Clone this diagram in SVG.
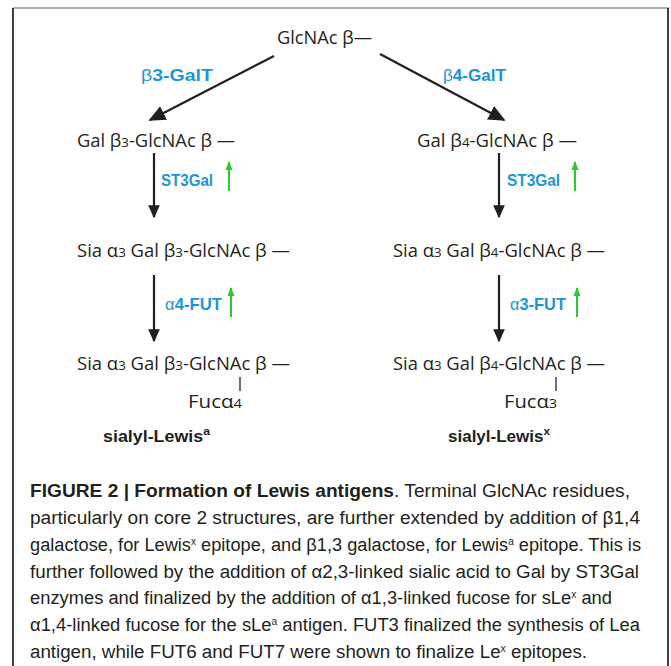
<svg xmlns="http://www.w3.org/2000/svg" width="671" height="666" viewBox="0 0 671 666">
<defs>
<style>
.t{font-family:"Open Sans","Noto Sans",sans-serif;font-size:18px;fill:#231f20}
.e{font-family:"Liberation Sans",Arial,sans-serif;font-size:17px;font-weight:bold;fill:#1b95d8}
.g{font-family:"Liberation Sans",Arial,sans-serif;font-weight:normal}
.n{font-family:"Liberation Sans",Arial,sans-serif;font-size:16px;font-weight:bold;fill:#231f20}
.c{font-family:"Liberation Sans",Arial,sans-serif;font-size:18px;fill:#231f20}
.ln{stroke:#231f20;stroke-width:2.2;fill:none}
.gr{stroke:#2ec72e;stroke-width:2;fill:none}
.sm{font-size:13px}
</style>
<marker id="ahb" viewBox="0 0 10 10" refX="9" refY="5" markerWidth="17" markerHeight="17" markerUnits="userSpaceOnUse" orient="auto"><path d="M0,0.5L10,5L0,9.5z" fill="#231f20"/></marker>
<marker id="ahs" viewBox="0 0 10 10" refX="9" refY="5" markerWidth="13" markerHeight="13" markerUnits="userSpaceOnUse" orient="auto"><path d="M0,0.5L10,5L0,9.5z" fill="#231f20"/></marker>
<marker id="ahg" viewBox="0 0 10 10" refX="9" refY="5" markerWidth="9" markerHeight="9" markerUnits="userSpaceOnUse" orient="auto"><path d="M0,1L10,5L0,9z" fill="#2ec72e"/></marker>
</defs>
<rect width="671" height="666" fill="#fff"/>
<g id="frame">
<line x1="13" y1="8" x2="669" y2="8" stroke="#999" stroke-width="1.5"/>
<line x1="13" y1="8" x2="13" y2="666" stroke="#000" stroke-width="1.5"/>
<line x1="668" y1="8" x2="668" y2="666" stroke="#000" stroke-width="1.5"/>
</g>
<g id="connectors">
<line class="ln" x1="274" y1="56" x2="150" y2="120" marker-end="url(#ahb)"/>
<line class="ln" x1="380" y1="54" x2="504" y2="120" marker-end="url(#ahb)"/>
<line class="ln" x1="154" y1="153" x2="154" y2="217" marker-end="url(#ahs)"/>
<line class="ln" x1="499" y1="153" x2="499" y2="217" marker-end="url(#ahs)"/>
<line class="ln" x1="154" y1="275" x2="154" y2="341" marker-end="url(#ahs)"/>
<line class="ln" x1="499" y1="275" x2="499" y2="341" marker-end="url(#ahs)"/>
<line class="gr" x1="229" y1="191" x2="229" y2="162" marker-end="url(#ahg)"/>
<line class="gr" x1="575" y1="191" x2="575" y2="162" marker-end="url(#ahg)"/>
<line class="gr" x1="231" y1="317" x2="231" y2="288" marker-end="url(#ahg)"/>
<line class="gr" x1="577" y1="317" x2="577" y2="288" marker-end="url(#ahg)"/>
<line x1="240" y1="377" x2="240" y2="391" stroke="#231f20" stroke-width="1.3"/>
<line x1="556" y1="377" x2="556" y2="391" stroke="#231f20" stroke-width="1.3"/>
</g>
<g id="n-glcnac"><text class="t" x="277" y="44" textLength="95" lengthAdjust="spacingAndGlyphs">GlcNAc β—</text></g>
<g id="l-b3galt"><text class="e" x="141" y="81" textLength="72" lengthAdjust="spacingAndGlyphs"><tspan class="g">β</tspan>3-GalT</text></g>
<g id="l-b4galt"><text class="e" x="443" y="81" textLength="63" lengthAdjust="spacingAndGlyphs"><tspan class="g">β</tspan>4-GalT</text></g>
<g id="n-galb3"><text class="t" x="77" y="147" textLength="158" lengthAdjust="spacingAndGlyphs">Gal β<tspan class="sm">3</tspan>-GlcNAc β —</text></g>
<g id="n-galb4"><text class="t" x="417" y="147" textLength="160" lengthAdjust="spacingAndGlyphs">Gal β<tspan class="sm">4</tspan>-GlcNAc β —</text></g>
<g id="l-st3gal-l"><text class="e" x="161" y="186" textLength="52" lengthAdjust="spacingAndGlyphs">ST3Gal</text></g>
<g id="l-st3gal-r"><text class="e" x="507" y="186" textLength="53" lengthAdjust="spacingAndGlyphs">ST3Gal</text></g>
<g id="n-sia-b3"><text class="t" x="77" y="257" textLength="213" lengthAdjust="spacingAndGlyphs">Sia α<tspan class="sm">3</tspan> Gal β<tspan class="sm">3</tspan>-GlcNAc β —</text></g>
<g id="n-sia-b4"><text class="t" x="393" y="257" textLength="212" lengthAdjust="spacingAndGlyphs">Sia α<tspan class="sm">3</tspan> Gal β<tspan class="sm">4</tspan>-GlcNAc β —</text></g>
<g id="l-a4fut"><text class="e" x="165" y="310" textLength="57" lengthAdjust="spacingAndGlyphs"><tspan class="g">α</tspan>4-FUT</text></g>
<g id="l-a3fut"><text class="e" x="510" y="310" textLength="56" lengthAdjust="spacingAndGlyphs"><tspan class="g">α</tspan>3-FUT</text></g>
<g id="n-slea"><text class="t" x="77" y="370" textLength="213" lengthAdjust="spacingAndGlyphs">Sia α<tspan class="sm">3</tspan> Gal β<tspan class="sm">3</tspan>-GlcNAc β —</text>
<text class="t" x="188" y="408" textLength="54" lengthAdjust="spacingAndGlyphs">Fucα<tspan class="sm">4</tspan></text>
<text class="n" x="103" y="442" textLength="107" lengthAdjust="spacingAndGlyphs">sialyl-Lewis<tspan font-size="11" dy="-7">a</tspan></text></g>
<g id="n-slex"><text class="t" x="393" y="370" textLength="212" lengthAdjust="spacingAndGlyphs">Sia α<tspan class="sm">3</tspan> Gal β<tspan class="sm">4</tspan>-GlcNAc β —</text>
<text class="t" x="504" y="408" textLength="53" lengthAdjust="spacingAndGlyphs">Fucα<tspan class="sm">3</tspan></text>
<text class="n" x="448" y="442" textLength="102" lengthAdjust="spacingAndGlyphs">sialyl-Lewis<tspan font-size="11" dy="-7">x</tspan></text></g>
<g id="caption">
<text class="c" x="30" y="497" textLength="600" lengthAdjust="spacingAndGlyphs"><tspan font-weight="bold">FIGURE 2 | Formation of Lewis antigens</tspan>. Terminal GlcNAc residues,</text>
<text class="c" x="30" y="524" textLength="610" lengthAdjust="spacingAndGlyphs">particularly on core 2 structures, are further extended by addition of β1,4</text>
<text class="c" x="30" y="551" textLength="611" lengthAdjust="spacingAndGlyphs">galactose, for Lewis<tspan font-size="10" dy="-6">x</tspan><tspan dy="6"> epitope, and β1,3 galactose, for Lewis</tspan><tspan font-size="10" dy="-6">a</tspan><tspan dy="6"> epitope. This is</tspan></text>
<text class="c" x="30" y="578" textLength="609" lengthAdjust="spacingAndGlyphs">further followed by the addition of α2,3-linked sialic acid to Gal by ST3Gal</text>
<text class="c" x="30" y="604" textLength="582" lengthAdjust="spacingAndGlyphs">enzymes and finalized by the addition of α1,3-linked fucose for sLe<tspan font-size="10" dy="-6">x</tspan><tspan dy="6"> and</tspan></text>
<text class="c" x="30" y="631" textLength="610" lengthAdjust="spacingAndGlyphs">α1,4-linked fucose for the sLe<tspan font-size="10" dy="-6">a</tspan><tspan dy="6"> antigen. FUT3 finalized the synthesis of Lea</tspan></text>
<text class="c" x="30" y="658" textLength="557" lengthAdjust="spacingAndGlyphs">antigen, while FUT6 and FUT7 were shown to finalize Le<tspan font-size="10" dy="-6">x</tspan><tspan dy="6"> epitopes.</tspan></text>
</g>
</svg>
